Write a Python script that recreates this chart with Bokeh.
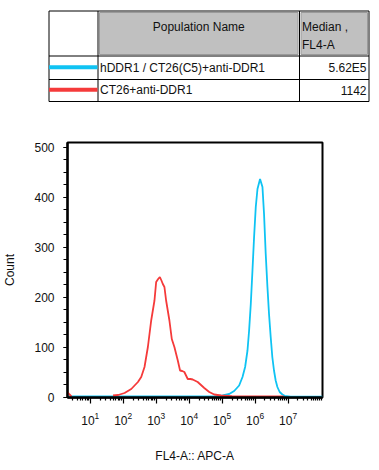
import math
from bokeh.plotting import figure
from bokeh.layouts import column
from bokeh.models import Range1d, FixedTicker, SingleIntervalTicker
from bokeh.core.properties import value
from bokeh.embed import file_html
from bokeh.resources import INLINE

FONT = "Liberation Sans"

# ---------------- data (x in decades, i.e. log10 of FL4-A) ----------------
blue_decade = [0.311, 4.60, 4.813, 5.015, 5.215, 5.366, 5.517, 5.619, 5.698, 5.770,
               5.819, 5.870, 5.921, 5.970, 6.021, 6.073, 6.151, 6.224, 6.272,
               6.323, 6.375, 6.423, 6.474, 6.523, 6.574, 6.625, 6.677, 6.746,
               6.828, 6.897, 7.079, 8.045]
blue_count = [1, 1, 1.6, 3, 6, 12, 23, 40, 60, 93,
              133, 186, 253, 320, 380, 416, 436, 420, 366,
              286, 220, 166, 120, 80, 53, 33, 20, 10,
              5, 2.4, 0.5, 0.5]

red_decade = [0.311, 0.372, 0.432, float("nan"),
              1.692, 1.85, 2.042, 2.245, 2.447, 2.547, 2.647, 2.749, 2.849,
              2.949, 3.000, 3.060, 3.112, 3.160, 3.202, 3.251, 3.302, 3.402,
              3.474, 3.553, 3.656, 3.725, 3.790, 3.855, 3.958, 4.040, 4.109,
              4.260, 4.459, 4.610, 4.761, 4.964, 5.30, 6.867]
red_count = [10, 5, 1, float("nan"),
             3, 4, 8, 16, 30, 40, 60, 100, 153,
             193, 230, 236, 240, 233, 226, 220, 193, 153,
             116, 100, 73, 53, 52, 50, 36, 36, 35,
             30, 18, 10, 5, 3, 1.5, 1]

pop_names = ["hDDR1 / CT26(C5)+anti-DDR1", "CT26+anti-DDR1"]
pop_medians = ["5.62E5", "1142"]
pop_colors = ["#0fc3f3", "#f53a3a"]
header_name = "Population Name"
header_median = ["Median ,", "FL4-A"]

x_tick_decades = [1, 2, 3, 4, 5, 6, 7]
y_tick_interval = 100
x_label = "FL4-A:: APC-A"
y_label = "Count"

W = 379
TBL_H = 108
HIST_H = 470 - TBL_H

# ---------------- table figure (coordinates in page pixels) ----------------
tbl = figure(width=W, height=TBL_H, x_range=Range1d(0, W), y_range=Range1d(TBL_H, 0),
             output_backend="svg", toolbar_location=None,
             x_axis_location=None, y_axis_location=None, frame_align=False,
             min_border_left=0, min_border_right=0, min_border_top=0, min_border_bottom=0)
tbl.grid.visible = False
tbl.outline_line_color = None

tx_left, tx_c1, tx_c2, tx_right = 48.5, 97.5, 299.0, 368.5
ty_top, ty_h, ty_r1, ty_bottom = 10.5, 55.5, 79.0, 101.0

# gray header cells
tbl.quad(left=[tx_c1 + 1.5, tx_c2 + 1.5], right=[tx_c2 - 1.5, tx_right - 1.5],
         top=[ty_top + 1.5, ty_top + 1.5], bottom=[ty_h - 1.5, ty_h - 1.5],
         fill_color="#c0c0c0", line_color="#9a9a9a", line_width=1)
# outer border
tbl.quad(left=[tx_left], right=[tx_right], top=[ty_top], bottom=[ty_bottom],
         fill_color=None, line_color="black", line_width=1)
# inner rules
tbl.segment(x0=[tx_left, tx_left, tx_c1, tx_c2], y0=[ty_h, ty_r1, ty_top, ty_top],
            x1=[tx_right, tx_right, tx_c1, tx_c2], y1=[ty_h, ty_r1, ty_bottom, ty_bottom],
            line_color="black", line_width=1)
row_y = [67.3, 89.8]
# swatches
tbl.segment(x0=[tx_left] * 2, x1=[tx_c1 - 0.5] * 2, y0=[66.7, 89.3], y1=[66.7, 89.3],
            line_color=pop_colors, line_width=4)

tkw = dict(text_font=value(FONT), text_font_size="12px", text_baseline="middle", text_color="#111111")
tbl.text(x=[(tx_c1 + tx_c2) / 2], y=[26.0], text=[header_name], text_align="center", **tkw)
tbl.text(x=[tx_c2 + 2.5] * 2, y=[26.0, 44.3], text=header_median, text_align="left", **tkw)
tbl.text(x=[tx_c1 + 2] * 2, y=row_y, text=pop_names, text_align="left", **tkw)
tbl.text(x=[tx_right - 2.5] * 2, y=row_y, text=pop_medians, text_align="right", **tkw)

# ---------------- histogram figure ----------------
p = figure(width=W, height=HIST_H, x_axis_type="log",
           x_range=Range1d(10 ** 0.311, 10 ** 8.045), y_range=Range1d(-1, 509),
           output_backend="svg", toolbar_location=None, frame_align=False,
           min_border_left=66, min_border_right=57, min_border_top=34, min_border_bottom=73)
p.grid.visible = False
p.outline_line_color = "black"
p.outline_line_width = 2
p.background_fill_color = "white"
p.border_fill_color = "white"

blue_x = [10 ** d for d in blue_decade]
red_x = [10 ** d if not math.isnan(d) else float("nan") for d in red_decade]
p.line(blue_x, blue_count, line_color=pop_colors[0], line_width=1.8)
p.line(red_x, red_count, line_color=pop_colors[1], line_width=1.8)

minor = [k * 10 ** n for n in range(0, 8) for k in range(2, 10)] + [10 ** 8]
p.xaxis.ticker = FixedTicker(ticks=[10 ** d for d in x_tick_decades], minor_ticks=minor)
p.yaxis.ticker = SingleIntervalTicker(interval=y_tick_interval, num_minor_ticks=4)

for ax in (p.xaxis[0], p.yaxis[0]):
    ax.axis_line_width = 2.3
    ax.major_tick_line_width = 1.2
    ax.minor_tick_line_width = 1.2
    ax.major_tick_in = 0
    ax.minor_tick_in = 0
    ax.major_label_text_font = FONT
    ax.major_label_text_font_size = "12px"
    ax.major_label_text_color = "#111111"
    ax.axis_label_text_font = FONT
    ax.axis_label_text_font_size = "12px"
    ax.axis_label_text_font_style = "normal"
    ax.axis_label_text_color = "#111111"

p.xaxis.major_tick_out = 6
p.xaxis.minor_tick_out = 3
p.xaxis.major_label_standoff = 8
p.xaxis.axis_label = x_label
p.xaxis.axis_label_standoff = 21

p.yaxis.major_tick_out = 4
p.yaxis.minor_tick_out = 4
p.yaxis.major_label_standoff = 9
p.yaxis.axis_label = y_label
p.yaxis.axis_label_standoff = 14

layout = column(tbl, p, spacing=0)
open("out.html", "w").write(file_html(layout, INLINE))
